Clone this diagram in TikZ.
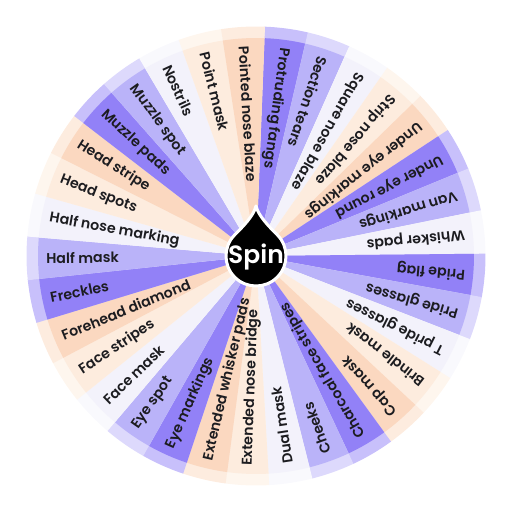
\documentclass[tikz,border=0pt]{standalone}
\usepackage{fontspec}
\setmainfont{Poppins}[UprightFont=* Medium, BoldFont=* SemiBold]
\usetikzlibrary{calc}
\definecolor{cP}{RGB}{146,129,247}
\definecolor{cLP}{RGB}{186,179,249}
\definecolor{cW}{RGB}{243,242,251}
\definecolor{cLO}{RGB}{253,236,222}
\definecolor{cO}{RGB}{251,216,192}
\definecolor{ink}{RGB}{28,28,32}
\tikzset{
  lab/.style={font=\bfseries\fontsize{14.2}{16}\selectfont, text=ink, inner sep=0pt},
  hub/.style={fill=black, draw=white, line width=3pt, line join=round},
  spintext/.style={font=\bfseries\fontsize{25}{28}\selectfont, text=white, inner sep=0pt}
}
\begin{document}
\begin{tikzpicture}[x=1pt,y=1pt]
\useasboundingbox (0,0) rectangle (512,512);
\coordinate (c) at (256,256);
\foreach \lab/\col [count=\i from 0] in {
 Protruding fangs/cP, Section tears/cLP, Square nose blaze/cW, Strip nose blaze/cLO,
 Under eye markings/cO, Under eye round/cP, Van markings/cLP, Whisker pads/cW,
 Pride flag/cP, Pride glasses/cLP, T pride glasses/cW, Brindle mask/cLO, Cap mask/cO,
 Charcoal face stripes/cP, Cheeks/cLP, Dual mask/cW, Extended nose bridge/cLO,
 Extended whisker pads/cO, Eye markings/cP, Eye spot/cLP, Face mask/cW, Face stripes/cLO,
 Forehead diamond/cO, Freckles/cP, Half mask/cLP, Half nose marking/cW, Head spots/cLO,
 Head stripe/cO, Muzzle pads/cP, Muzzle spot/cLP, Nostrils/cW, Point mask/cLO,
 Pointed nose blaze/cO} {
  \pgfmathsetmacro\a{82.35-\i*10.90909}
  \pgfmathsetmacro\s{\a+5.5}
  \pgfmathsetmacro\e{\a-5.5}
  \fill[\col!50!white] (c) -- ($(c)+(\s:229.5)$) arc[start angle=\s, end angle=\e, radius=229.5] -- cycle;
  \fill[\col] (c) -- ($(c)+(\s:218)$) arc[start angle=\s, end angle=\e, radius=218] -- cycle;
}
\foreach \lab [count=\i from 0] in {
 Protruding fangs, Section tears, Square nose blaze, Strip nose blaze,
 Under eye markings, Under eye round, Van markings, Whisker pads,
 Pride flag, Pride glasses, T pride glasses, Brindle mask, Cap mask,
 Charcoal face stripes, Cheeks, Dual mask, Extended nose bridge,
 Extended whisker pads, Eye markings, Eye spot, Face mask, Face stripes,
 Forehead diamond, Freckles, Half mask, Half nose marking, Head spots,
 Head stripe, Muzzle pads, Muzzle spot, Nostrils, Point mask,
 Pointed nose blaze} {
  \pgfmathsetmacro\a{82.35-\i*10.90909}
  \node[lab, rotate=\a+180, anchor=west] (l\i) at ($(c)+(\a:210)$) {\lab};
}
\begin{scope}[shift={(256,256)}]
  \draw[hub] (0,50) .. controls (2.5,40) and (12.5,30) .. (21.21,21.21)
    arc[start angle=45, end angle=-225, radius=30]
    .. controls (-12.5,30) and (-2.5,40) .. (0,50) -- cycle;
\end{scope}
\node[spintext, anchor=base] (spin) at (256,248) {Spin};
\end{tikzpicture}
\end{document}
